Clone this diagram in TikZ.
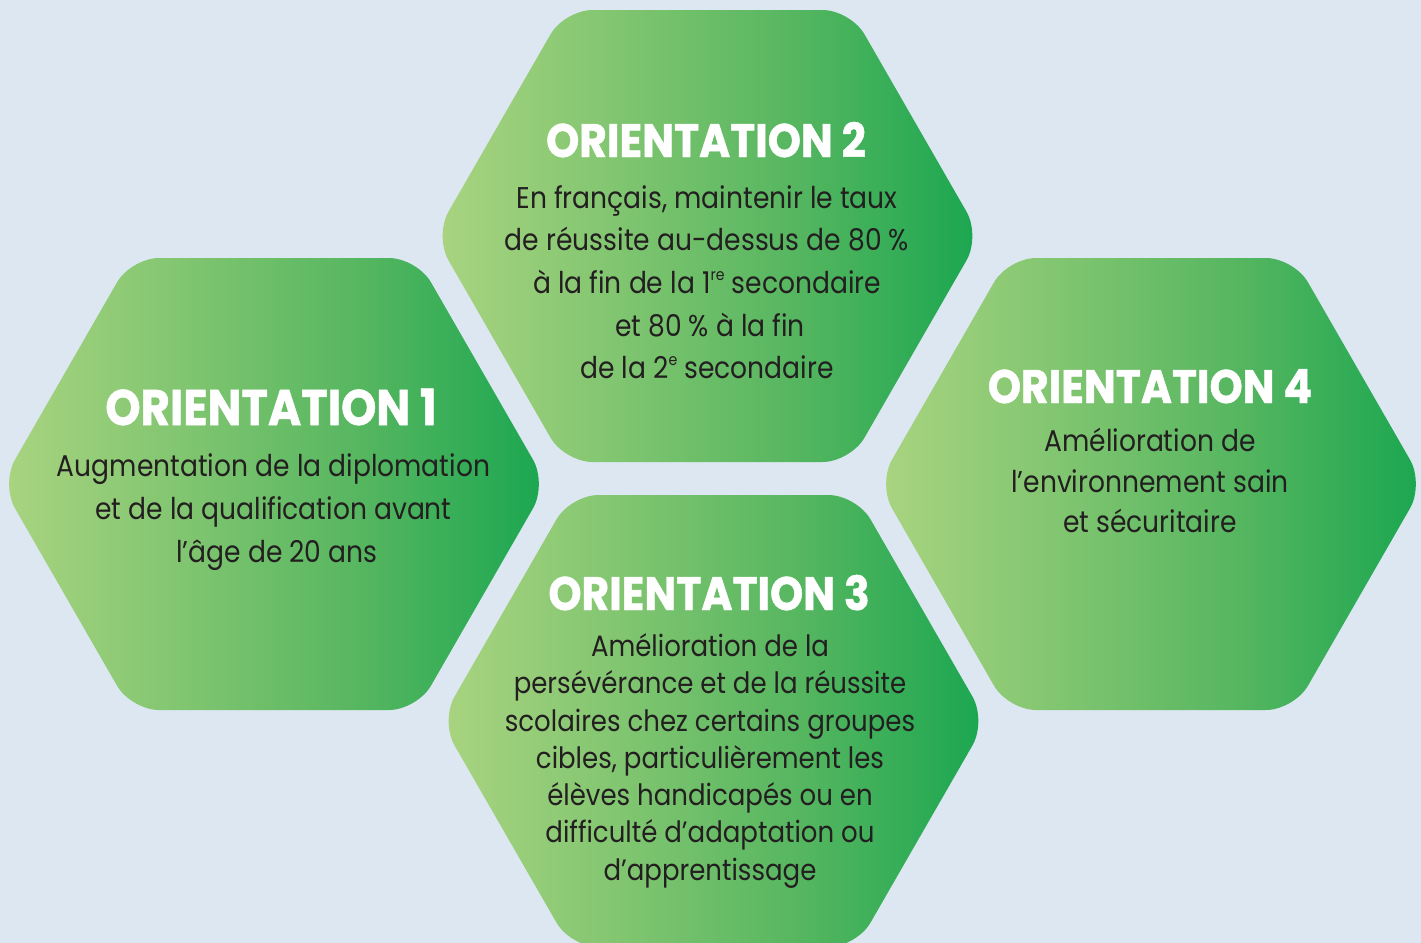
\documentclass[tikz,border=0pt]{standalone}
\usepackage{fontspec}
\setmainfont{Poppins}
\newfontfamily\titlefont{Poppins}[FakeStretch=0.9,FakeBold=1]
\newfontfamily\bodyfont{Poppins}[FakeStretch=0.885]
\newcommand\smallsup[1]{\raisebox{0.75ex}{\fontsize{8}{8}\selectfont #1}}
\definecolor{bg}{RGB}{220,231,242}
\definecolor{txt}{RGB}{35,31,32}
\definecolor{gA}{RGB}{170,212,128}
\definecolor{gB}{RGB}{128,197,112}
\definecolor{gC}{RGB}{86,182,96}
\definecolor{gD}{RGB}{26,166,80}
\pgfdeclarehorizontalshading{hexgrad}{100bp}{color(0bp)=(gA); color(25bp)=(gA); color(42bp)=(gB); color(58bp)=(gC); color(75bp)=(gD); color(100bp)=(gD)}
\tikzset{
  hexshape/.style={shading=hexgrad, rounded corners=14pt},
  titletext/.style={anchor=base, inner sep=0pt, text=white, font=\titlefont\bfseries\fontsize{23.5}{28}\selectfont},
  bodytext/.style={anchor=base, inner sep=0pt, text=txt, font=\bodyfont\fontsize{15}{18}\selectfont},
}
\newcommand\hexpathat[2]{\shade[hexshape] (#1-273,#2) -- (#1-143,#2-226) -- (#1+143,#2-226) -- (#1+273,#2) -- (#1+143,#2+226) -- (#1-143,#2+226) -- cycle;}
\begin{document}
\begin{tikzpicture}[x=0.5pt,y=-0.5pt]
\fill[bg] (0,0) rectangle (1421,943);
\useasboundingbox (0,0) rectangle (1421,943);
\begin{scope}
\clip (0,0) rectangle (1421,943);
\hexpathat{274}{484}
\hexpathat{707.5}{236}
\hexpathat{713.5}{721}
\hexpathat{1151}{484}
\end{scope}
% Orientation 1
\node[titletext, font=\titlefont\bfseries\fontsize{25}{30}\selectfont] (t1) at (271,425) {ORIENTATION 1};
\node[bodytext] (b1a) at (273.5,476) {Augmentation de la diplomation};
\node[bodytext] (b1b) at (273.5,519) {et de la qualification avant};
\node[bodytext] (b1c) at (277,562) {l’âge de 20 ans};
% Orientation 2
\node[titletext] (t2) at (706,157) {ORIENTATION 2};
\node[bodytext] (b2a) at (707,208) {En français, maintenir le taux};
\node[bodytext] (b2b) at (707,250) {de réussite au-dessus de 80 \%};
\node[bodytext] (b2c) at (707,293) {à la fin de la 1\smallsup{re} secondaire};
\node[bodytext] (b2d) at (710,336) {et 80 \% à la fin};
\node[bodytext] (b2e) at (707,378) {de la 2\smallsup{e} secondaire};
% Orientation 3
\node[titletext] (t3) at (709,610) {ORIENTATION 3};
\begin{scope}[bodytext/.append style={font=\bodyfont\fontsize{14.7}{17}\selectfont}]
\node[bodytext] (b3a) at (710,656) {Amélioration de la};
\node[bodytext] (b3b) at (710,693) {persévérance et de la réussite};
\node[bodytext] (b3c) at (710,731) {scolaires chez certains groupes};
\node[bodytext] (b3d) at (710,768) {cibles, particulièrement les};
\node[bodytext] (b3e) at (710,805) {élèves handicapés ou en};
\node[bodytext] (b3f) at (710,842) {difficulté d’adaptation ou};
\node[bodytext] (b3g) at (710,880) {d’apprentissage};
\end{scope}
% Orientation 4
\node[titletext] (t4) at (1150,403) {ORIENTATION 4};
\begin{scope}[bodytext/.append style={font=\bodyfont\fontsize{15}{18}\selectfont}]
\node[bodytext] (b4a) at (1150,451) {Amélioration de};
\node[bodytext] (b4b) at (1150,492) {l’environnement sain};
\node[bodytext] (b4c) at (1150,532) {et sécuritaire};
\end{scope}
\end{tikzpicture}
\end{document}
